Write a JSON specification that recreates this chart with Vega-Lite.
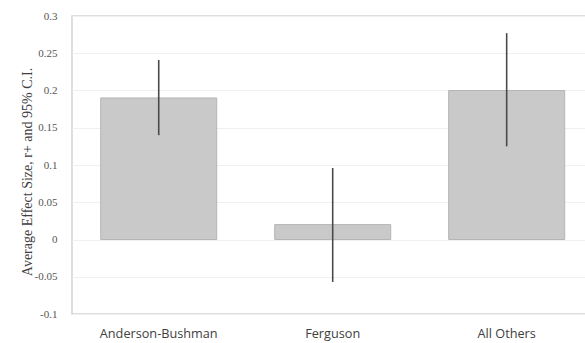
{
  "$schema": "https://vega.github.io/schema/vega-lite/v6.json",
  "autosize": "none",
  "padding": {"left": 72, "top": 16, "right": 0, "bottom": 29},
  "width": 514,
  "height": 298,
  "background": "#ffffff",
  "config": {
    "view": {"stroke": "#d4d4d4", "strokeWidth": 1.5},
    "axisY": {
      "titleFont": "Liberation Serif",
      "titleFontSize": 14,
      "titleFontWeight": "normal",
      "titleColor": "#404040",
      "titleX": -38,
      "titleY": 155.5,
      "labelOverlap": false,
      "labelFont": "Liberation Serif",
      "labelFontSize": 11,
      "labelColor": "#555555",
      "labelPadding": 15,
      "domain": false,
      "ticks": false,
      "grid": true,
      "gridColor": "#f0f0f0",
      "gridWidth": 1
    }
  },
  "data": {
    "values": [
      {"group": "Anderson-Bushman", "effect": 0.19, "lo": 0.14, "hi": 0.241},
      {"group": "Ferguson", "effect": 0.02, "lo": -0.057, "hi": 0.096},
      {"group": "All Others", "effect": 0.2, "lo": 0.125, "hi": 0.277}
    ]
  },
  "encoding": {
    "x": {
      "field": "group",
      "type": "nominal",
      "sort": null,
      "scale": {"paddingInner": 0.333, "paddingOuter": 0.1437, "align": 0.574},
      "axis": {
        "title": null,
        "labelAngle": 0,
        "domain": false,
        "ticks": false,
        "labelPadding": 13,
        "labelFont": "Open Sans",
        "labelFontSize": 12.7,
        "labelColor": "#404040"
      }
    }
  },
  "layer": [
    {
      "mark": {"type": "bar", "color": "#c9c9c9", "stroke": "#b5b5b5", "strokeWidth": 1},
      "encoding": {
        "y": {
          "field": "effect",
          "type": "quantitative",
          "scale": {"domain": [-0.1, 0.3], "nice": false, "zero": false},
          "axis": {
            "title": "Average Effect Size, r+ and 95% C.I.",
            "values": [-0.1, -0.05, 0, 0.05, 0.1, 0.15, 0.2, 0.25, 0.3],
            "labelExpr": "replace(format(datum.value, '.2~f'), '−', '-')"
          }
        }
      }
    },
    {
      "mark": {"type": "rule", "color": "#4a4a4a", "strokeWidth": 1.6},
      "encoding": {
        "y": {
          "field": "lo",
          "type": "quantitative",
          "axis": {
            "title": "Average Effect Size, r+ and 95% C.I.",
            "values": [-0.1, -0.05, 0, 0.05, 0.1, 0.15, 0.2, 0.25, 0.3],
            "labelExpr": "replace(format(datum.value, '.2~f'), '−', '-')"
          }
        },
        "y2": {"field": "hi"}
      }
    }
  ]
}
